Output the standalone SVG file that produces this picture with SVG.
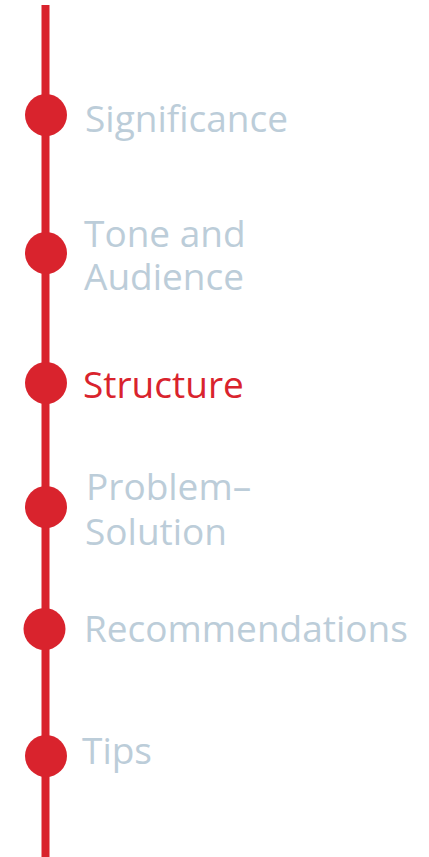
<svg xmlns="http://www.w3.org/2000/svg" width="429" height="857" viewBox="0 0 429 857">
<style>
.dot{fill:#d9232d}
.t{font-family:"Open Sans","Liberation Sans",sans-serif;font-size:37px;fill:#bccdd9}
.on{fill:#d9232d}
</style>
<rect width="429" height="857" fill="#ffffff"/>
<g id="connectors">
<line x1="45.5" y1="5" x2="45.5" y2="857" stroke="#d9232d" stroke-width="8"/>
</g>
<g id="n1"><circle class="dot" cx="46" cy="115" r="21"/><text class="t" x="85" y="132">Significance</text></g>
<g id="n2"><circle class="dot" cx="46" cy="253" r="21"/><text class="t" x="84" y="247">Tone and</text><text class="t" x="84" y="290">Audience</text></g>
<g id="n3"><circle class="dot" cx="46" cy="383" r="21"/><text class="t on" x="83" y="398">Structure</text></g>
<g id="n4"><circle class="dot" cx="46" cy="507" r="21"/><text class="t" x="86" y="500">Problem–</text><text class="t" x="85" y="545">Solution</text></g>
<g id="n5"><circle class="dot" cx="44.5" cy="629" r="21"/><text class="t" x="84" y="642">Recommendations</text></g>
<g id="n6"><circle class="dot" cx="46" cy="756" r="21"/><text class="t" x="82" y="764">Tips</text></g>
</svg>
